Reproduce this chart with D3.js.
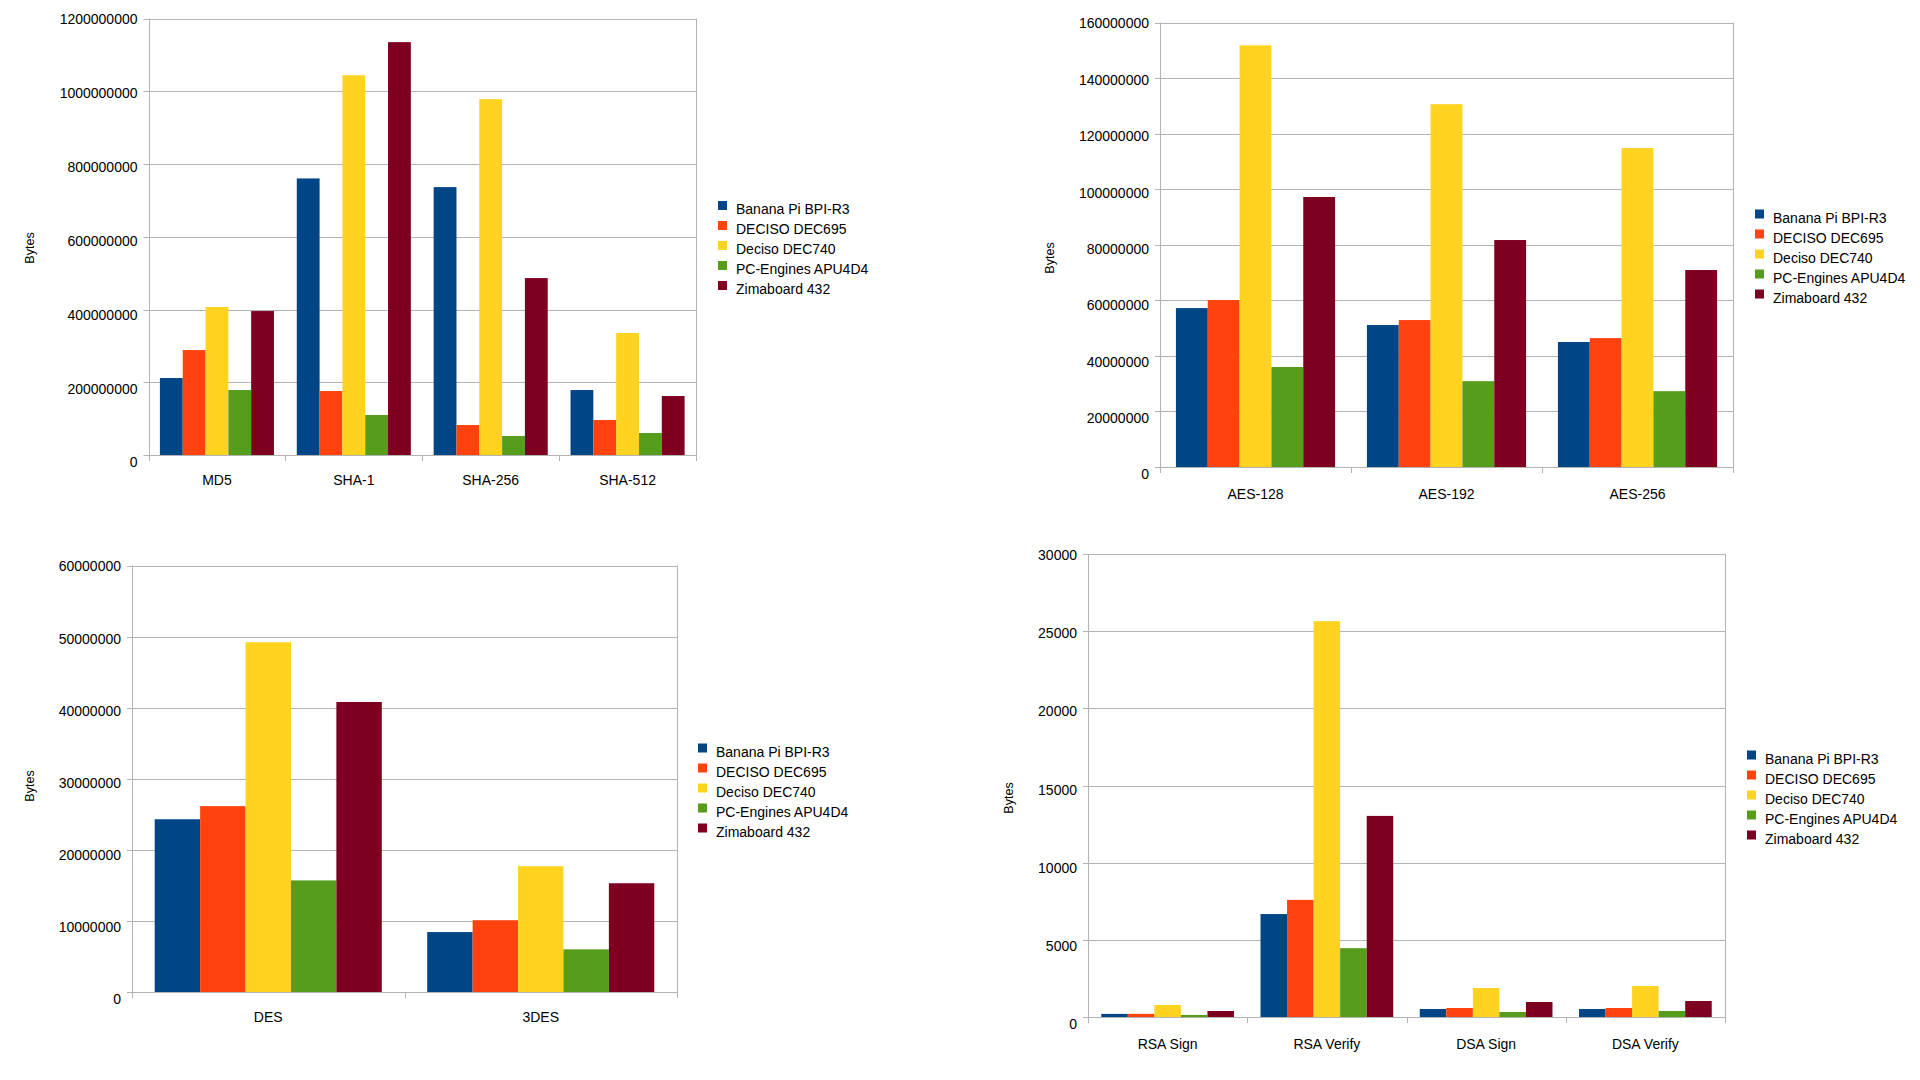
<!DOCTYPE html>
<html>
<head>
<meta charset="utf-8">
<script src="https://cdn.jsdelivr.net/npm/d3@7"></script>
<style>
  html, body { margin: 0; padding: 0; background: #fff; }
  svg { display: block; font-family: "Liberation Sans", Arial, sans-serif; }
</style>
</head>
<body>
<svg id="chart" width="1920" height="1080"></svg>
<script>
// ---------- DATA ----------
const seriesNames = ["Banana Pi BPI-R3", "DECISO DEC695", "Deciso DEC740", "PC-Engines APU4D4", "Zimaboard 432"];
const seriesColors = ["#004586", "#ff420e", "#ffd320", "#579d1c", "#7e0021"];

const hashCategories = ["MD5", "SHA-1", "SHA-256", "SHA-512"];
const hashTicks = [0, 200000000, 400000000, 600000000, 800000000, 1000000000, 1200000000];
// rows = series, columns = categories
const hashValues = [
  [211600000, 760300000, 736500000, 178600000],
  [288500000, 175900000,  82400000,  96200000],
  [406700000, 1044000000, 978300000, 335300000],
  [178600000, 110000000,  52200000,  60500000],
  [395700000, 1135000000, 486400000, 162100000]
];

const aesCategories = ["AES-128", "AES-192", "AES-256"];
const aesTicks = [0, 20000000, 40000000, 60000000, 80000000, 100000000, 120000000, 140000000, 160000000];
const aesValues = [
  [57200000, 51100000, 45000000],
  [60100000, 52900000, 46400000],
  [151800000, 130600000, 114800000],
  [36000000, 30900000, 27300000],
  [97200000, 81700000, 70900000]
];

const desCategories = ["DES", "3DES"];
const desTicks = [0, 10000000, 20000000, 30000000, 40000000, 50000000, 60000000];
const desValues = [
  [24300000, 8430000],
  [26150000, 10100000],
  [49200000, 17700000],
  [15700000, 6000000],
  [40800000, 15300000]
];

const pkCategories = ["RSA Sign", "RSA Verify", "DSA Sign", "DSA Verify"];
const pkTicks = [0, 5000, 10000, 15000, 20000, 25000, 30000];
const pkValues = [
  [200, 6670, 518, 518],
  [205, 7590, 583, 583],
  [780, 25650, 1879, 2009],
  [132, 4460, 324, 389],
  [389, 13030, 972, 1037]
];

const axisTitle = "Bytes";

// ---------- DRAW ----------
const svg = d3.select("#chart");
const gridColor = "#b3b3b3";
const fmt = d3.format("d");

function drawChart(cfg) {
  const g = svg.append("g");
  const { left, right, top, bottom } = cfg;
  const maxTick = cfg.ticks[cfg.ticks.length - 1];

  const y = d3.scaleLinear().domain([0, maxTick]).range([bottom, top]);
  const yLabel = d3.scaleLinear().domain([0, maxTick]).range([bottom + 7.5, top + 1]);
  const x0 = d3.scaleBand().domain(cfg.categories).range([left, right]).padding(0);
  const bw = x0.bandwidth();
  const x1 = d3.scaleBand().domain(d3.range(seriesNames.length)).range([bw / 12, bw * 11 / 12]).padding(0);

  // gridlines
  g.append("g").selectAll("line").data(cfg.ticks).join("line")
    .attr("x1", left - 5).attr("x2", right)
    .attr("y1", d => Math.round(y(d)) + 0.5).attr("y2", d => Math.round(y(d)) + 0.5)
    .attr("stroke", gridColor).attr("stroke-width", 1);

  // left axis line and right border
  [left, right].forEach(xx => {
    g.append("line")
      .attr("x1", Math.round(xx) + 0.5).attr("x2", Math.round(xx) + 0.5)
      .attr("y1", top).attr("y2", bottom + 6)
      .attr("stroke", gridColor).attr("stroke-width", 1);
  });

  // category boundary ticks
  const bounds = cfg.categories.map(c => x0(c)).slice(1);
  g.append("g").selectAll("line").data(bounds).join("line")
    .attr("x1", d => Math.round(d) + 0.5).attr("x2", d => Math.round(d) + 0.5)
    .attr("y1", bottom).attr("y2", bottom + 6)
    .attr("stroke", gridColor).attr("stroke-width", 1);

  // bars
  const barData = [];
  cfg.values.forEach((row, si) => row.forEach((v, ci) => barData.push({ si, ci, v })));
  g.append("g").selectAll("rect").data(barData).join("rect")
    .attr("x", d => x0(cfg.categories[d.ci]) + x1(d.si))
    .attr("width", x1.bandwidth())
    .attr("y", d => y(d.v))
    .attr("height", d => y(0) - y(d.v))
    .attr("fill", d => seriesColors[d.si]);

  // y tick labels
  g.append("g").selectAll("text").data(cfg.ticks).join("text")
    .attr("x", left - 11)
    .attr("y", d => yLabel(d))
    .attr("dy", "0.35em")
    .attr("text-anchor", "end")
    .attr("font-size", 14)
    .attr("fill", "#000")
    .text(d => fmt(d));

  // category labels
  g.append("g").selectAll("text").data(cfg.categories).join("text")
    .attr("x", d => x0(d) + bw / 2)
    .attr("y", bottom + cfg.catOffset)
    .attr("dy", "0.35em")
    .attr("text-anchor", "middle")
    .attr("font-size", 14)
    .attr("fill", "#000")
    .text(d => d);

  // axis title
  g.append("text")
    .attr("transform", `translate(${cfg.titleX},${cfg.titleY}) rotate(-90)`)
    .attr("text-anchor", "middle")
    .attr("dy", "0.35em")
    .attr("font-size", 12.5)
    .attr("fill", "#000")
    .text(axisTitle);

  // legend
  const lg = g.append("g");
  const items = lg.selectAll("g").data(seriesNames).join("g")
    .attr("transform", (d, i) => `translate(${cfg.legendX},${cfg.legendY + i * 20})`);
  items.append("rect")
    .attr("x", 0).attr("y", -8.5).attr("width", 9).attr("height", 9)
    .attr("fill", (d, i) => seriesColors[i]);
  items.append("text")
    .attr("x", 18).attr("y", 0).attr("dy", "0.35em")
    .attr("font-size", 14).attr("fill", "#000")
    .text(d => d);
}

drawChart({ categories: hashCategories, ticks: hashTicks, values: hashValues,
  left: 148.5, right: 696, top: 18.5, bottom: 455, catOffset: 25.5,
  titleX: 30, titleY: 248, legendX: 718, legendY: 209.5 });

drawChart({ categories: aesCategories, ticks: aesTicks, values: aesValues,
  left: 1160, right: 1733, top: 22.5, bottom: 467, catOffset: 27,
  titleX: 1050, titleY: 258, legendX: 1755, legendY: 218 });

drawChart({ categories: desCategories, ticks: desTicks, values: desValues,
  left: 132, right: 677, top: 565.5, bottom: 992, catOffset: 25.5,
  titleX: 30, titleY: 786, legendX: 698, legendY: 752 });

drawChart({ categories: pkCategories, ticks: pkTicks, values: pkValues,
  left: 1088, right: 1725, top: 554, bottom: 1017, catOffset: 27,
  titleX: 1009, titleY: 798, legendX: 1747, legendY: 759 });
</script>
</body>
</html>
